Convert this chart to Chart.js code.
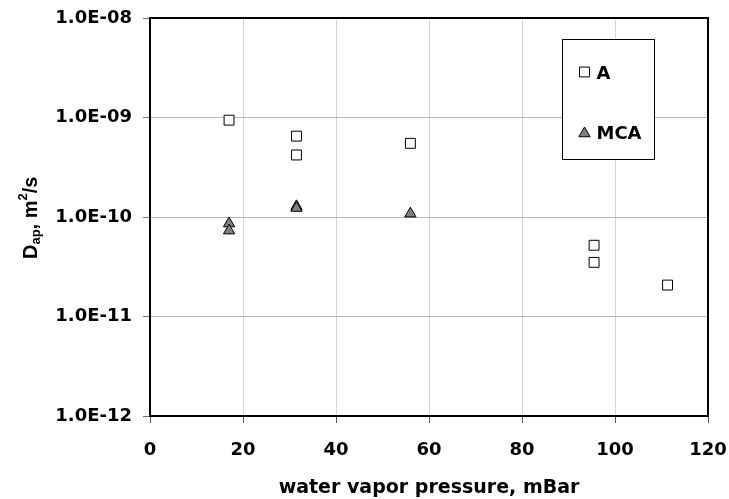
<!DOCTYPE html>
<html>
<head>
<meta charset="utf-8">
<script src="https://cdn.jsdelivr.net/npm/chart.js"></script>
<style>
  html, body { margin: 0; padding: 0; background: #fff; }
  canvas { display: block; }
</style>
</head>
<body>
<canvas id="myChart" width="729" height="499"></canvas>
<script>
// data
const seriesNames = ["A", "MCA"];
const aPressure = [17, 31.5, 31.5, 56, 95.5, 95.5, 111.3];
const aDiffusion = [9.4e-10, 6.5e-10, 4.2e-10, 5.5e-10, 5.2e-11, 3.5e-11, 2.07e-11];
const mcaPressure = [17, 17, 31.5, 31.5, 56];
const mcaDiffusion = [8.6e-11, 7.3e-11, 1.28e-10, 1.23e-10, 1.08e-10];
const yTickValues = [1e-12, 1e-11, 1e-10, 1e-9, 1e-8];
const yTickLabels = ["1.0E-12", "1.0E-11", "1.0E-10", "1.0E-09", "1.0E-08"];
const xAxisTitle = "water vapor pressure, mBar";

const toPoints = (xs, ys) => xs.map((x, i) => ({ x: x, y: ys[i] }));

const tickFont = { family: "DejaVu Sans", weight: "bold", size: 18 };

// frame, legend box and the y title (it needs sub/superscript)
const extras = {
    id: "extras",
    afterDraw(chart) {
        const ctx = chart.ctx;
        const a = chart.chartArea;
        ctx.save();
        ctx.strokeStyle = "#000";
        ctx.lineWidth = 2;
        ctx.strokeRect(a.left, a.top, a.right - a.left, a.bottom - a.top);

        // legend
        const bx = 562.5, by = 39.5, bw = 92, bh = 120;
        ctx.fillStyle = "#fff";
        ctx.fillRect(bx, by, bw, bh);
        ctx.lineWidth = 1;
        ctx.strokeStyle = "#000";
        ctx.strokeRect(bx, by, bw, bh);

        const rows = [78.5, 138.5];
        chart.data.datasets.forEach((ds, i) => {
            const mx = 584.5, my = rows[i] - 6.5;
            ctx.fillStyle = ds.backgroundColor;
            ctx.strokeStyle = ds.borderColor;
            ctx.lineWidth = ds.borderWidth;
            ctx.beginPath();
            if (ds.pointStyle === "rect") {
                const s = Math.SQRT1_2 * ds.pointRadius;
                ctx.rect(mx - s, my - s, 2 * s, 2 * s);
            } else {
                const r = ds.pointRadius;
                const ty = my + 1.5;
                ctx.moveTo(mx, ty - r);
                ctx.lineTo(mx + 0.866 * r, ty + 0.5 * r);
                ctx.lineTo(mx - 0.866 * r, ty + 0.5 * r);
                ctx.closePath();
            }
            ctx.fill();
            ctx.stroke();
            ctx.fillStyle = "#000";
            ctx.font = "bold 18px 'DejaVu Sans'";
            ctx.textAlign = "left";
            ctx.textBaseline = "alphabetic";
            ctx.fillText(ds.label, 596.5, rows[i]);
        });

        // y title
        ctx.translate(37, 259);
        ctx.rotate(-Math.PI / 2);
        ctx.fillStyle = "#000";
        ctx.textAlign = "left";
        ctx.textBaseline = "alphabetic";
        const parts = [["D", 20, 0], ["ap", 13, 3], [", m", 20, 0], ["2", 13, -10], ["/s", 20, 0]];
        let x = 0;
        parts.forEach(([txt, size, dy]) => {
            ctx.font = `bold ${size}px 'Liberation Sans'`;
            ctx.fillText(txt, x, dy);
            x += ctx.measureText(txt).width;
        });
        ctx.restore();
    },
};

var ctx = document.getElementById("myChart").getContext("2d");
var myChart = new Chart(ctx, {
    type: "scatter",
    data: {
        datasets: [
            {
                label: seriesNames[0],
                data: toPoints(aPressure, aDiffusion),
                pointStyle: "rect",
                pointRadius: 7,
                backgroundColor: "#ffffff",
                borderColor: "#000000",
                borderWidth: 1,
            },
            {
                label: seriesNames[1],
                data: toPoints(mcaPressure, mcaDiffusion),
                pointStyle: "triangle",
                pointRadius: 6.5,
                backgroundColor: "#808080",
                borderColor: "#000000",
                borderWidth: 1,
            },
        ],
    },
    options: {
        responsive: false,
        animation: false,
        devicePixelRatio: 1,
        layout: { padding: { left: 0, right: 21, top: 18, bottom: 0 } },
        plugins: {
            legend: { display: false },
            tooltip: { enabled: false },
        },
        scales: {
            x: {
                type: "linear",
                min: 0,
                max: 120,
                ticks: { stepSize: 20, color: "#000", font: tickFont, padding: 17 },
                grid: { color: "#d4d4d4", tickColor: "#555", tickLength: 7 },
                border: { color: "#000", width: 2 },
                title: {
                    display: true,
                    text: xAxisTitle,
                    color: "#000",
                    font: { family: "DejaVu Sans", weight: "bold", size: 19 },
                    padding: { top: 0, bottom: 0 },
                },
                afterFit: (scale) => {
                    scale.height = 83;
                    scale.paddingLeft = 0;
                    scale.paddingRight = 0;
                },
            },
            y: {
                type: "logarithmic",
                min: 1e-12,
                max: 1e-8,
                afterBuildTicks: (scale) => {
                    scale.ticks = yTickValues.map((v) => ({ value: v }));
                },
                ticks: {
                    color: "#000",
                    font: tickFont,
                    padding: 11,
                    callback: (value, index) => yTickLabels[index],
                },
                grid: { color: "#b8b8b8", tickColor: "#777", tickLength: 7 },
                border: { color: "#000", width: 2 },
                afterFit: (scale) => {
                    scale.width = 150;
                    scale.paddingTop = 0;
                    scale.paddingBottom = 0;
                },
            },
        },
    },
    plugins: [extras],
});
</script>
</body>
</html>
